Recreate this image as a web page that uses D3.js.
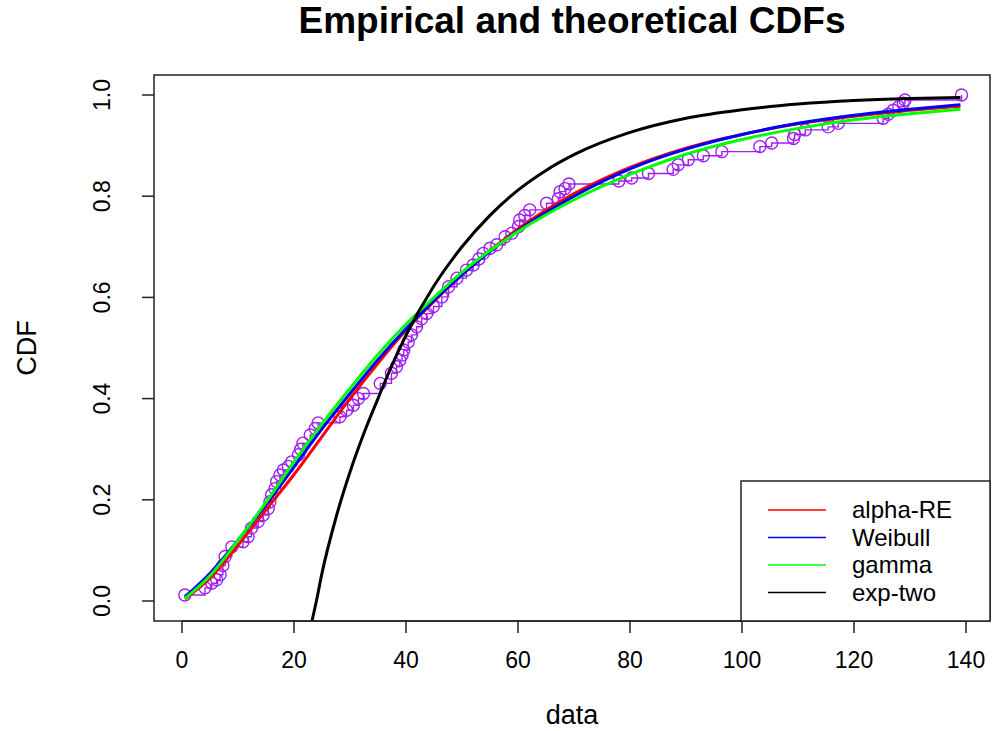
<!DOCTYPE html>
<html>
<head>
<meta charset="utf-8">
<script src="https://cdn.jsdelivr.net/npm/d3@7"></script>
<style>
  body { margin: 0; background: #fff; }
  svg text { font-family: "Liberation Sans", Arial, sans-serif; fill: #000; }
</style>
</head>
<body>
<div class="container"></div>
<script>
// empirical CDF points
const empX = [0.5, 4.1, 5.3, 6.2, 6.8, 7.3, 7.7, 8.9, 10.9, 11.8, 12.4, 13.6, 14.5, 15.4, 15.7, 16.0, 16.6, 16.9, 17.5, 18.1,
  19.0, 19.6, 20.8, 21.2, 21.6, 22.9, 23.8, 24.3, 28.2, 29.4, 30.6, 31.5, 32.4, 35.4, 37.4, 38.3, 38.9, 39.3, 39.6, 40.4,
  41.0, 41.9, 42.8, 43.7, 44.9, 46.4, 47.6, 49.1, 50.8, 52.0, 53.0, 53.8, 55.0, 56.2, 57.7, 58.9, 60.1, 60.3, 61.2, 62.1,
  65.1, 67.2, 67.5, 68.4, 69.1, 78.0, 80.3, 83.3, 87.7, 88.6, 90.4, 93.1, 96.4, 103.2, 105.3, 109.2, 109.4, 111.3, 115.4, 117.2,
  125.2, 126.1, 127.0, 128.0, 128.8, 129.1, 139.2];
const empF = [0.012, 0.026, 0.035, 0.042, 0.052, 0.07, 0.088, 0.107, 0.117, 0.127, 0.144, 0.157, 0.17, 0.183, 0.196, 0.21, 0.222, 0.236, 0.249, 0.259,
  0.266, 0.275, 0.289, 0.30, 0.312, 0.328, 0.341, 0.352, 0.364, 0.377, 0.387, 0.40, 0.41, 0.43, 0.45, 0.463, 0.476, 0.486, 0.496, 0.512,
  0.526, 0.542, 0.558, 0.568, 0.582, 0.601, 0.621, 0.638, 0.654, 0.664, 0.676, 0.687, 0.697, 0.704, 0.72, 0.727, 0.74, 0.753, 0.762, 0.773,
  0.786, 0.795, 0.809, 0.815, 0.824, 0.83, 0.836, 0.845, 0.853, 0.862, 0.872, 0.88, 0.888, 0.898, 0.905, 0.914, 0.922, 0.931, 0.937, 0.944,
  0.954, 0.962, 0.97, 0.977, 0.984, 0.99, 1.0];

// fitted curves
const fitX = [0.5, 5, 10, 15, 20, 25, 30, 35, 40, 45, 50, 60, 70, 80, 90, 100, 110, 120, 130, 139];
const alphaRE = [0.004, 0.045, 0.11, 0.18, 0.25, 0.325, 0.40, 0.47, 0.535, 0.592, 0.645, 0.735, 0.805, 0.857, 0.895, 0.922, 0.943, 0.958, 0.970, 0.978];
const weibull = [0.008, 0.055, 0.12, 0.19, 0.265, 0.34, 0.41, 0.477, 0.538, 0.594, 0.645, 0.732, 0.80, 0.854, 0.893, 0.922, 0.944, 0.960, 0.972, 0.981];
const gamma = [0.005, 0.05, 0.12, 0.195, 0.275, 0.35, 0.42, 0.487, 0.547, 0.60, 0.65, 0.73, 0.793, 0.843, 0.883, 0.912, 0.934, 0.951, 0.963, 0.972];

const expX = [23.2, 24, 25, 27.5, 30, 32.5, 35, 37.5, 40, 45, 50, 55, 60, 65, 70, 80, 90, 100, 110, 120, 130, 139];
const expTwo = [-0.04, 0.0, 0.055, 0.165, 0.255, 0.332, 0.40, 0.466, 0.525, 0.623, 0.70, 0.762, 0.812, 0.851, 0.882, 0.926, 0.954, 0.971, 0.982, 0.989, 0.993, 0.995];

const xTicks = [0, 20, 40, 60, 80, 100, 120, 140];
const yTicks = [0, 0.2, 0.4, 0.6, 0.8, 1.0];

const legendNames = ["alpha-RE", "Weibull", "gamma", "exp-two"];
const legendColors = ["#ff0000", "#0000ff", "#00ff00", "#000000"];

const width = 992, height = 731;
const box = { left: 154, right: 990, top: 75, bottom: 621 };

const x = d3.scaleLinear().domain([0, 140]).range([182, 966]);
const y = d3.scaleLinear().domain([0, 1]).range([601, 95]);

const svg = d3.select(".container").append("svg")
  .attr("width", width).attr("height", height);

svg.append("clipPath").attr("id", "plotclip")
  .append("rect")
  .attr("x", box.left).attr("y", box.top)
  .attr("width", box.right - box.left).attr("height", box.bottom - box.top);

const plot = svg.append("g").attr("clip-path", "url(#plotclip)");

// empirical step line and circles
const emp = empX.map((v, i) => [v, empF[i]]);
plot.append("path")
  .datum(emp)
  .attr("fill", "none")
  .attr("stroke", "#a020f0")
  .attr("stroke-width", 1.4)
  .attr("d", d3.line().x(d => x(d[0])).y(d => y(d[1])).curve(d3.curveStepAfter));

plot.selectAll("circle.emp")
  .data(emp)
  .enter().append("circle")
  .attr("class", "emp")
  .attr("cx", d => x(d[0]))
  .attr("cy", d => y(d[1]))
  .attr("r", 6)
  .attr("fill", "none")
  .attr("stroke", "#a020f0")
  .attr("stroke-width", 1.4);

// fitted curves
const line = d3.line().x(d => x(d[0])).y(d => y(d[1])).curve(d3.curveMonotoneX);
const fits = [
  { xs: fitX, ys: alphaRE, color: legendColors[0] },
  { xs: fitX, ys: weibull, color: legendColors[1] },
  { xs: fitX, ys: gamma, color: legendColors[2] },
  { xs: expX, ys: expTwo, color: legendColors[3] }
];
fits.forEach(f => {
  plot.append("path")
    .datum(f.xs.map((v, i) => [v, f.ys[i]]))
    .attr("fill", "none")
    .attr("stroke", f.color)
    .attr("stroke-width", 3)
    .attr("d", line);
});

// frame
svg.append("rect")
  .attr("x", box.left).attr("y", box.top)
  .attr("width", box.right - box.left).attr("height", box.bottom - box.top)
  .attr("fill", "none").attr("stroke", "#222").attr("stroke-width", 1.5);

// x axis
const xAxis = svg.append("g");
xAxis.append("line")
  .attr("x1", x(0)).attr("x2", x(140))
  .attr("y1", box.bottom).attr("y2", box.bottom)
  .attr("stroke", "#222").attr("stroke-width", 1.5);
xAxis.selectAll("line.tick").data(xTicks).enter().append("line")
  .attr("class", "tick")
  .attr("x1", d => x(d)).attr("x2", d => x(d))
  .attr("y1", box.bottom).attr("y2", box.bottom + 12)
  .attr("stroke", "#222").attr("stroke-width", 1.5);
xAxis.selectAll("text").data(xTicks).enter().append("text")
  .attr("x", d => x(d)).attr("y", 668)
  .attr("text-anchor", "middle")
  .style("font-size", "23px")
  .text(d => d);

// y axis
const yAxis = svg.append("g");
yAxis.selectAll("line.tick").data(yTicks).enter().append("line")
  .attr("class", "tick")
  .attr("x1", box.left - 12).attr("x2", box.left)
  .attr("y1", d => y(d)).attr("y2", d => y(d))
  .attr("stroke", "#222").attr("stroke-width", 1.5);
yAxis.selectAll("text").data(yTicks).enter().append("text")
  .attr("transform", d => `translate(110,${y(d)}) rotate(-90)`)
  .attr("text-anchor", "middle")
  .style("font-size", "23px")
  .text(d => d.toFixed(1));

// titles
svg.append("text")
  .attr("x", (box.left + box.right) / 2).attr("y", 33)
  .attr("text-anchor", "middle")
  .style("font-size", "37px").style("font-weight", "bold")
  .text("Empirical and theoretical CDFs");

svg.append("text")
  .attr("x", (box.left + box.right) / 2).attr("y", 724)
  .attr("text-anchor", "middle")
  .style("font-size", "27px")
  .text("data");

svg.append("text")
  .attr("transform", `translate(36,${(box.top + box.bottom) / 2}) rotate(-90)`)
  .attr("text-anchor", "middle")
  .style("font-size", "27px")
  .text("CDF");

// legend
const legend = svg.append("g");
legend.append("rect")
  .attr("x", 741).attr("y", 481)
  .attr("width", box.right - 741).attr("height", box.bottom - 481)
  .attr("fill", "#fff").attr("stroke", "#222").attr("stroke-width", 1.5);
legendNames.forEach((name, i) => {
  const ly = 510 + i * 27.5;
  legend.append("line")
    .attr("x1", 768).attr("x2", 826).attr("y1", ly).attr("y2", ly)
    .attr("stroke", legendColors[i]).attr("stroke-width", 1.5);
  legend.append("text")
    .attr("x", 852).attr("y", ly + 8)
    .style("font-size", "24px")
    .text(name);
});
</script>
</body>
</html>
